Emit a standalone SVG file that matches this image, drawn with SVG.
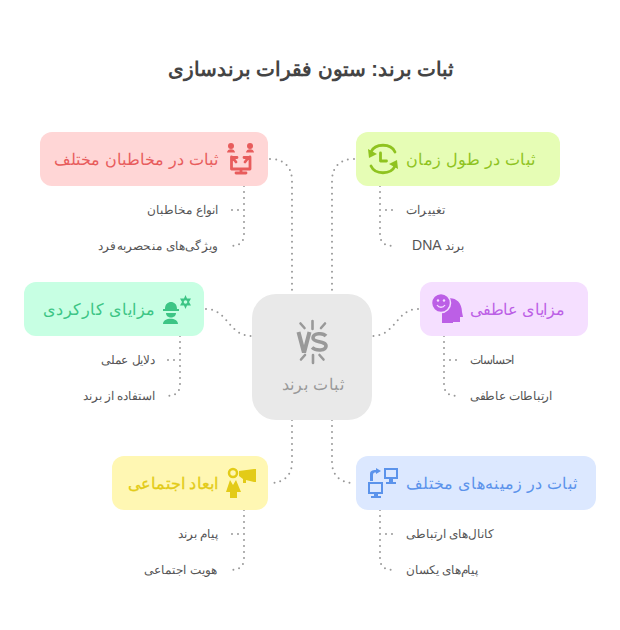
<svg xmlns="http://www.w3.org/2000/svg" width="620" height="630" viewBox="0 0 620 630">
<style>
text{font-family:"Liberation Sans",sans-serif;direction:rtl}
.t{font-size:16px}
.s{font-size:12px;fill:#555}
.c{fill:none;stroke:#999;stroke-width:2;stroke-dasharray:0 6;stroke-linecap:round}
.k{fill:none;stroke:#999;stroke-width:2;stroke-dasharray:0 6;stroke-linecap:round}
.ls{fill:none;stroke-width:2.800;stroke-linecap:round;stroke-linejoin:round}
</style>
<rect width="620" height="630" fill="#fff"/>
<text id="title" x="311" y="76" text-anchor="middle" font-size="20" font-weight="bold" fill="#444">ثبات برند: ستون فقرات برندسازی</text>
<g id="connectors">
<path class="c" d="M270 159C284 159 292 167 292 181V294"/>
<path class="c" d="M354 159C340 159 332 167 332 181V294"/>
<path class="c" d="M206 309C228 309 228 336 252 336"/>
<path class="c" d="M418 309C396 309 396 336 372 336"/>
<path class="c" d="M292 420V462C292 475 284 483 270 483"/>
<path class="c" d="M332 420V462C332 475 340 483 354 483"/>
<path class="k" d="M244 186V210H230M244 210V234C244 242 240 246 230 246"/>
<path class="k" d="M380 186V210H394M380 210V234C380 242 384 246 394 246"/>
<path class="k" d="M180 336V360H166M180 360V384C180 392 176 396 166 396"/>
<path class="k" d="M444 336V360H458M444 360V384C444 392 448 396 458 396"/>
<path class="k" d="M244 510V534H230M244 534V558C244 566 240 570 230 570"/>
<path class="k" d="M380 510V534H394M380 534V558C380 566 384 570 394 570"/>
</g>
<g id="center">
<rect x="252" y="294" width="120" height="126" rx="24" fill="#e9e9e9"/>
<path d="M312.500 321V329M300.500 323.500L304.500 328M325 323.500L321 328M313 355V363M301 359.500L305 355M323.500 359.500L319.500 355" stroke="#999" stroke-width="2.600" stroke-linecap="round" fill="none"/>
<path d="M298.500 332L303.500 351H304.500L309.500 332" fill="none" stroke="#999" stroke-width="4"/>
<path d="M326 336C323 332.500 313 333 313 338C313 343 326 340.500 326 346C326 351 316 351 312 347.500" fill="none" stroke="#999" stroke-width="3.600"/>
<text x="312.500" y="390" text-anchor="middle" font-size="16" fill="#999" textLength="62">ثبات برند</text>
</g>
<g id="n-audience">
<rect x="40" y="132" width="228" height="54" rx="12" fill="#ffd6d6"/>
<g fill="#e85c5c">
<circle cx="231" cy="146" r="3"/><circle cx="250" cy="146" r="3"/>
<path d="M227 152.500C227 148 235 148 235 152.500ZM246 152.500C246 148 254 148 254 152.500Z"/>
</g>
<path class="ls" stroke="#e85c5c" d="M231.500 157V169H250V157M241 169V173M236 173H246M236 162L232.500 157.500M232.500 157.500H237M245 162L248.500 157.500M248.500 157.500H244"/>
<text class="t" x="218" y="165" text-anchor="start" fill="#e85c5c" textLength="164">ثبات در مخاطبان مختلف</text>
<text class="s" x="218" y="214" text-anchor="start" textLength="71">انواع مخاطبان</text>
<text class="s" x="218" y="250" text-anchor="start" textLength="120">ویژگی‌های منحصربه‌فرد</text>
</g>
<g id="n-time">
<rect x="356" y="132" width="204" height="54" rx="12" fill="#e6fdb5"/>
<path class="ls" stroke="#8fc31f" d="M371 152C375 143 391 143 395 152M395 166C391 175 375 175 371 166M380.500 153V161H386.500"/>
<path d="M368 149L377 154L369 158ZM398 169L389 164L397 160Z" fill="#8fc31f"/>
<text class="t" x="535" y="165" text-anchor="start" fill="#8fc31f" textLength="129">ثبات در طول زمان</text>
<text class="s" x="445" y="214" text-anchor="start" textLength="39">تغییرات</text>
<text class="s" x="464" y="250" text-anchor="start">برند <tspan font-size="14">DNA</tspan></text>
</g>
<g id="n-functional">
<rect x="24" y="282" width="180" height="54" rx="12" fill="#c7ffe3"/>
<path d="M163 311V309H165C165 304 168 302 171 302C174 302 177 304 177 309H179V311ZM166 313H176C176 319 166 319 166 313ZM163 324C163 317 178 317 178 324Z" fill="#3cc585"/>
<path d="M185.500 295L187 298.500H191L189 302L191 305.500H187L185.500 309L184 305.500H180L182 302L180 298.500H184Z" fill="#3cc585"/>
<circle cx="185.500" cy="302" r="1.800" fill="#c7ffe3"/>
<text class="t" x="155" y="315" text-anchor="start" fill="#3cc585" textLength="112">مزایای کارکردی</text>
<text class="s" x="155" y="364" text-anchor="start" textLength="54">دلایل عملی</text>
<text class="s" x="155" y="400" text-anchor="start" textLength="72">استفاده از برند</text>
</g>
<g id="n-emotional">
<rect x="420" y="282" width="168" height="54" rx="12" fill="#f5dfff"/>
<path d="M443 302C448 295 462 298 462 312L463 317H460V322H453V323H442V314Z" fill="#bc5fe6"/>
<circle cx="441" cy="303" r="9.500" fill="#bc5fe6" stroke="#f5dfff" stroke-width="1.500"/>
<circle cx="438" cy="300.500" r="1.200" fill="#f5dfff"/><circle cx="444" cy="300.500" r="1.200" fill="#f5dfff"/>
<path d="M437 305C439 308 443 308 445 305" fill="none" stroke="#f5dfff" stroke-width="1.300"/>
<text class="t" x="565" y="315" text-anchor="start" fill="#bc5fe6" textLength="95">مزایای عاطفی</text>
<text class="s" x="514" y="364" text-anchor="start" textLength="44">احساسات</text>
<text class="s" x="552" y="400" text-anchor="start" textLength="82">ارتباطات عاطفی</text>
</g>
<g id="n-social">
<rect x="112" y="456" width="156" height="54" rx="12" fill="#fff7b3"/>
<g fill="#e3cb17">
<circle cx="233" cy="473" r="4" fill="none" stroke="#e3cb17" stroke-width="2.500"/>
<path d="M230 480L226 492H230V498H237V492H241L236 480L233 485Z"/>
<path d="M239 471L254 469H256V482H254L246 480V483H243V479L239 476Z"/>
</g>
<text class="t" x="218" y="489" text-anchor="start" fill="#e3cb17" stroke="#e3cb17" stroke-width="0.300" textLength="90">ابعاد اجتماعی</text>
<text class="s" x="218" y="538" text-anchor="start" textLength="40">پیام برند</text>
<text class="s" x="217" y="574" text-anchor="start" textLength="73">هویت اجتماعی</text>
</g>
<g id="n-context">
<rect x="356" y="456" width="240" height="54" rx="12" fill="#dce8ff"/>
<g fill="#5b93eb">
<path fill-rule="evenodd" d="M384 468H398V479H393V482H396V484H386V482H389V479H384ZM386 470V477H396V470Z"/>
<path fill-rule="evenodd" d="M368 482H383V494H378V496H381V498H371V496H374V494H368ZM370 484V492H381V484Z"/>
<path d="M370 481V474C370 471 372 470 376 470V468L381 471L376 474V472.500C374 472.500 373 473 373 475V481Z"/>
</g>
<text class="t" x="577" y="489" text-anchor="start" fill="#5b93eb" textLength="171">ثبات در زمینه‌های مختلف</text>
<text class="s" x="494" y="538" text-anchor="start" textLength="88">کانال‌های ارتباطی</text>
<text class="s" x="478" y="574" text-anchor="start" textLength="72">پیام‌های یکسان</text>
</g>
</svg>
